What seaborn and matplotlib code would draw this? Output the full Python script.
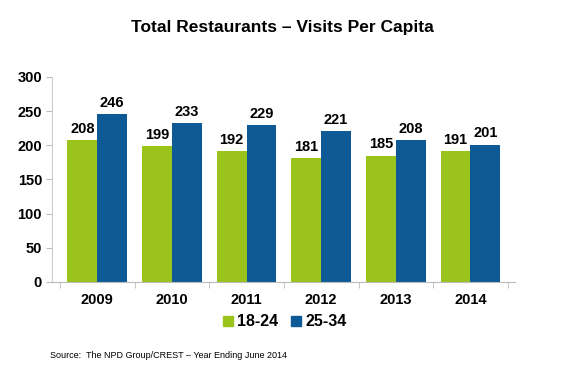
import pandas as pd
import numpy as np
import matplotlib.pyplot as plt
import seaborn as sns

# data
years = ["2009", "2010", "2011", "2012", "2013", "2014"]
age_18_24 = [208, 199, 192, 181, 185, 191]
age_25_34 = [246, 233, 229, 221, 208, 201]
groups = ["18-24", "25-34"]

df = pd.DataFrame({
    "year": years * 2,
    "visits": age_18_24 + age_25_34,
    "age": [groups[0]] * len(years) + [groups[1]] * len(years),
})

sns.set_style("white")
plt.rcParams["font.family"] = ["Liberation Sans", "DejaVu Sans"]
plt.rcParams["text.color"] = "black"
plt.rcParams["xtick.color"] = "black"
plt.rcParams["ytick.color"] = "black"

fig = plt.figure(figsize=(5.7, 3.7), dpi=100)
ax = fig.add_axes([0.092, 0.238, 0.812, 0.554])

colors = ["#9AC31C", "#0E5A96"]
sns.barplot(data=df, x="year", y="visits", hue="age", palette=colors,
            width=0.8, saturation=1, ax=ax, legend=False,
            edgecolor="none", linewidth=0)

for cont in ax.containers:
    ax.bar_label(cont, fmt="%d", padding=3, fontsize=10.5, fontweight="bold",
                 color="black")

ax.set_ylim(0, 300)
ax.set_yticks(range(0, 301, 50))
ax.set_xlim(-0.6, 5.6)
ax.set_xlabel("")
ax.set_ylabel("")
ax.tick_params(axis="y", labelsize=10.5, length=4, color="#bbbbbb",
               labelcolor="black", direction="out", left=True)
ax.tick_params(axis="x", labelsize=10.5, length=0, pad=8, labelcolor="black")
for lab in ax.get_xticklabels() + ax.get_yticklabels():
    lab.set_fontweight("bold")
ax.set_xticks(np.arange(-0.5, 6, 1), minor=True)
ax.tick_params(axis="x", which="minor", length=4, color="#bbbbbb", bottom=True)

sns.despine(ax=ax)
ax.spines["left"].set_color("#cccccc")
ax.spines["bottom"].set_color("#bbbbbb")

fig.text(0.495, 0.925, "Total Restaurants \u2013 Visits Per Capita",
         ha="center", va="center", fontsize=12.5, fontweight="bold", color="black")

handles = [plt.Rectangle((0, 0), 1, 1, color=c) for c in colors]
fig.legend(handles, groups, loc="center", bbox_to_anchor=(0.5, 0.13), ncol=2,
           frameon=False, handlelength=0.6, handleheight=0.6, handletextpad=0.3,
           columnspacing=0.8, prop={"size": 11.5, "weight": "bold"})

fig.text(0.088, 0.04, "Source:  The NPD Group/CREST \u2013 Year Ending June 2014",
         ha="left", va="center", fontsize=6.5, color="black")

fig.savefig("out.png", dpi=100)
